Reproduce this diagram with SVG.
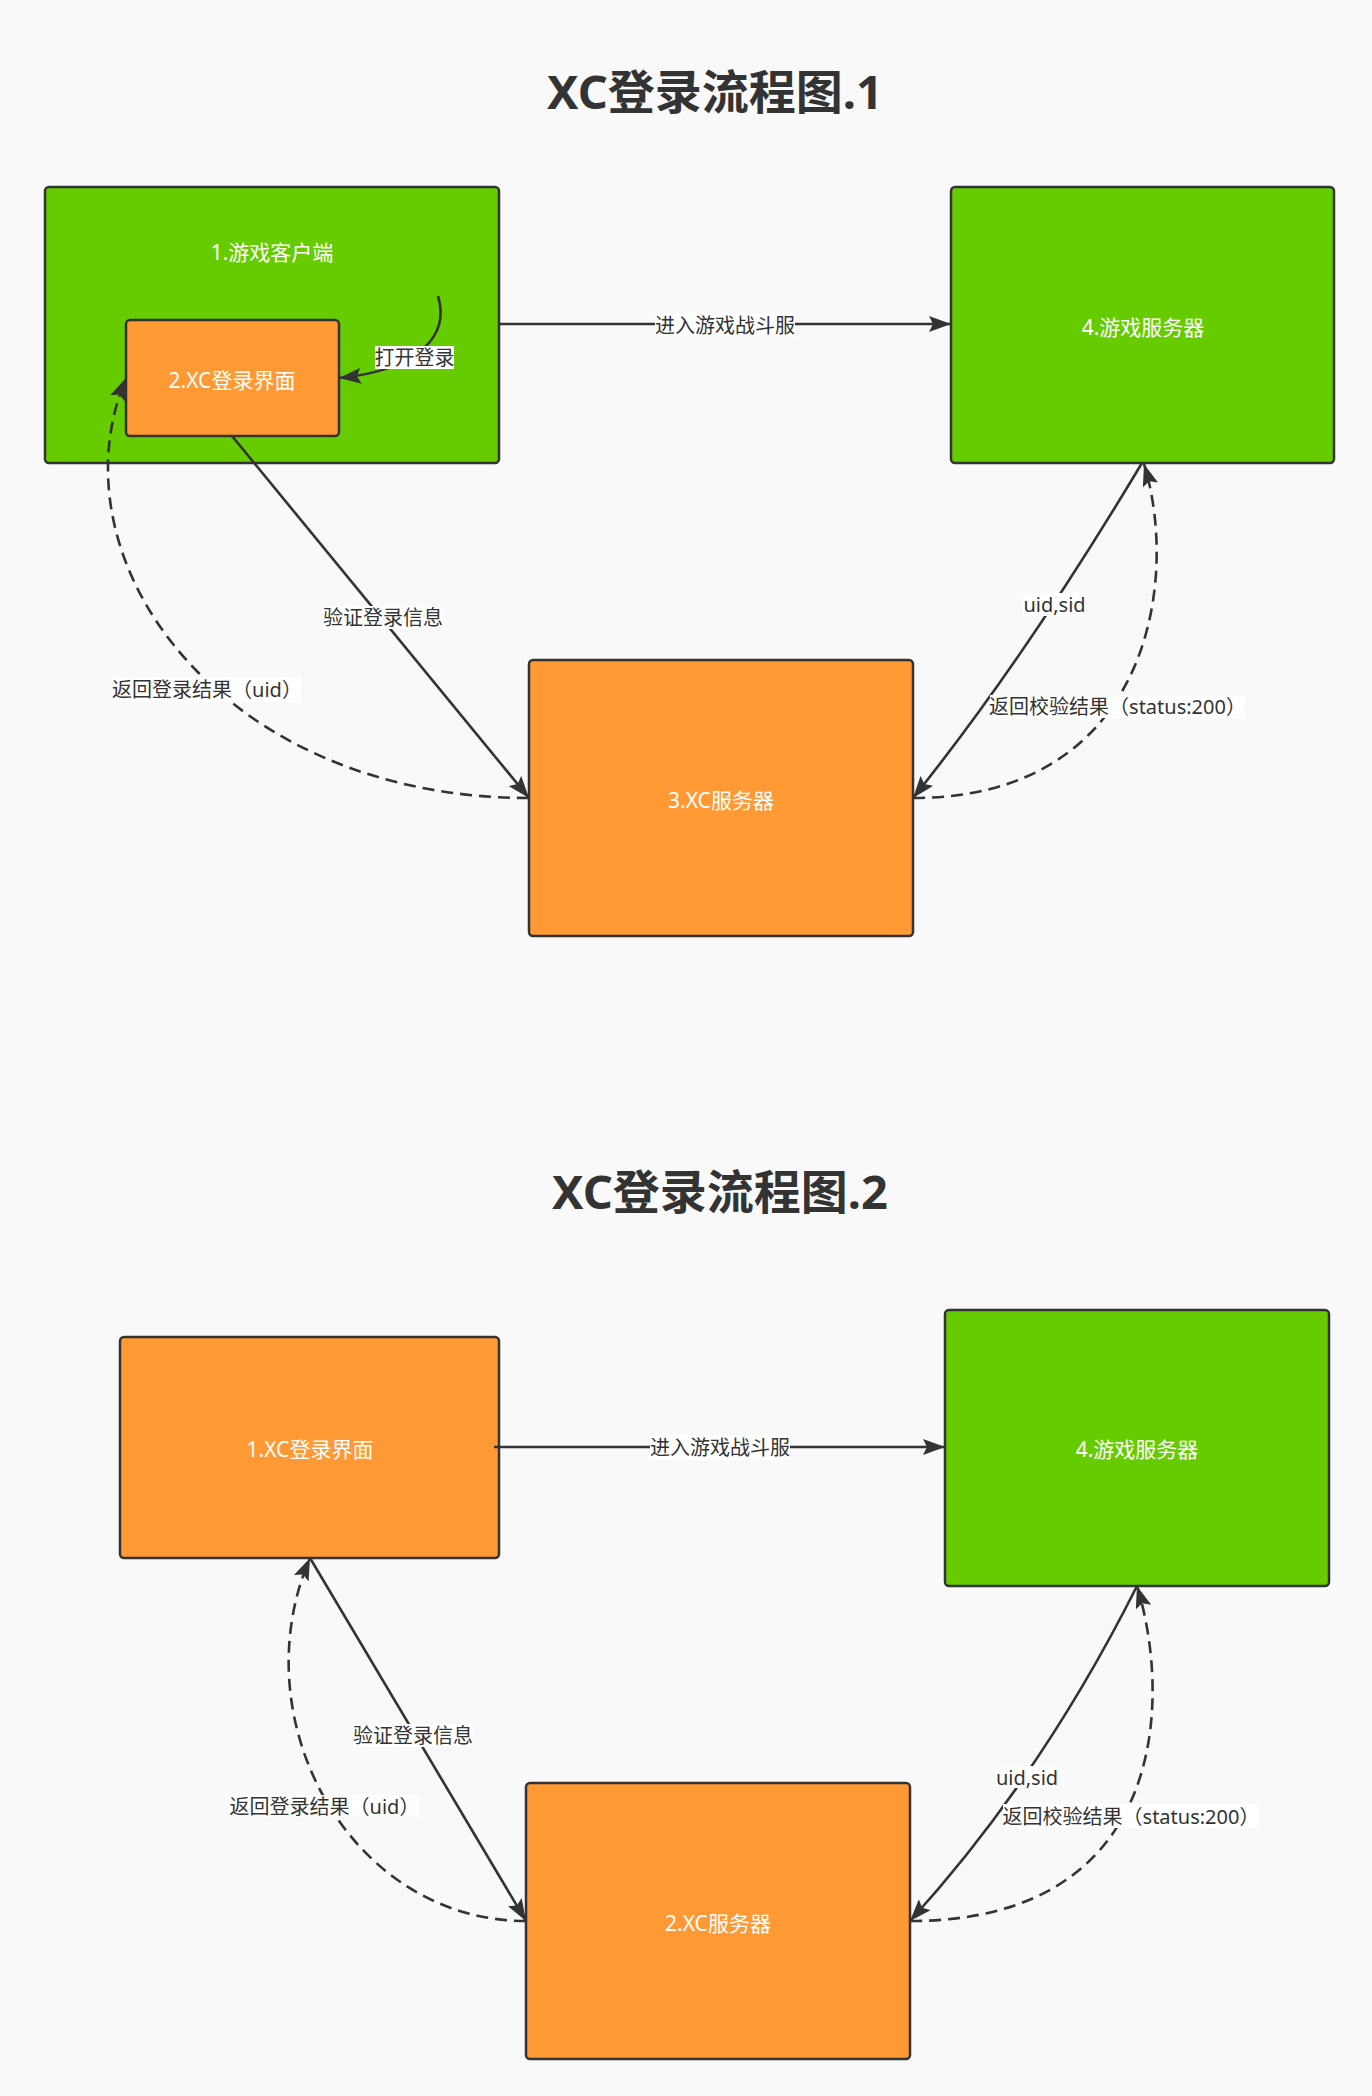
<svg xmlns="http://www.w3.org/2000/svg" width="1372" height="2096" viewBox="0 0 1372 2096">
  <style>
    .title { font-family: "Noto Sans", "Noto Sans CJK SC", sans-serif; font-size: 47px; font-weight: bold; fill: #333333; text-anchor: middle; dominant-baseline: central; }
    .box { stroke: #333333; stroke-width: 2.5; }
    .green { fill: #66cc00; }
    .orange { fill: #ff9933; }
    .node-label { font-family: "Noto Sans", "Noto Sans CJK SC", sans-serif; font-size: 21px; fill: #ffffff; text-anchor: middle; dominant-baseline: central; }
    .edge { fill: none; stroke: #333333; stroke-width: 2.6; marker-end: url(#arrow); }
    .dashed { stroke-dasharray: 12 7; }
    .edge-bg { fill: #ffffff; }
    .edge-label { font-family: "Noto Sans", "Noto Sans CJK SC", sans-serif; font-size: 20px; fill: #333333; text-anchor: middle; dominant-baseline: central; }
  </style>
  <defs>
    <marker id="arrow" viewBox="0 0 22 16" refX="22" refY="8" markerWidth="22" markerHeight="16" markerUnits="userSpaceOnUse" orient="auto">
      <path d="M0,0 L22,8 L0,16 L4,8 Z" fill="#333333"/>
    </marker>
  </defs>

  <rect x="0" y="0" width="1372" height="2096" fill="#f9f9f9"/>

  <!-- Flow 1 -->
  <text class="title" x="715" y="91">XC登录流程图.1</text>

  <g id="f1-client">
    <rect class="box green" x="45" y="187" width="454" height="276" rx="4"/>
    <text class="node-label" x="272" y="252">1.游戏客户端</text>
  </g>
  <g id="f1-login-ui">
    <rect class="box orange" x="126" y="320" width="213" height="116" rx="4"/>
    <text class="node-label" x="232" y="380">2.XC登录界面</text>
  </g>
  <g id="f1-game-server">
    <rect class="box green" x="951" y="187" width="383" height="276" rx="4"/>
    <text class="node-label" x="1143" y="327">4.游戏服务器</text>
  </g>
  <g id="f1-xc-server">
    <rect class="box orange" x="529" y="660" width="384" height="276" rx="4"/>
    <text class="node-label" x="721" y="800">3.XC服务器</text>
  </g>

  <g id="f1-connectors">
    <path class="edge" d="M438,296 C450,335 420,370 339,378"/>
    <rect class="edge-bg" x="375" y="346" width="79" height="23"/>
    <text class="edge-label" x="414.5" y="357.5">打开登录</text>

    <path class="edge" d="M499,324 L951,324"/>
    <rect class="edge-bg" x="655" y="313" width="140" height="24"/>
    <text class="edge-label" x="725" y="325">进入游戏战斗服</text>

    <path class="edge" d="M232,436 L529,798"/>
    <rect class="edge-bg" x="323" y="606" width="120" height="23"/>
    <text class="edge-label" x="383" y="617">验证登录信息</text>

    <path class="edge dashed" d="M529,798 C220,798 50,560 126,378"/>
    <rect class="edge-bg" x="113" y="677" width="188" height="25"/>
    <text class="edge-label" x="207" y="689.5">返回登录结果（uid）</text>

    <path class="edge" d="M1142,463 Q1024,660 913,798"/>
    <rect class="edge-bg" x="1023" y="593" width="63" height="23"/>
    <text class="edge-label" x="1054.5" y="604.5">uid,sid</text>

    <path class="edge dashed" d="M913,798 C1150,798 1180,580 1144,464"/>
    <rect class="edge-bg" x="990" y="695" width="255" height="23"/>
    <text class="edge-label" x="1117.5" y="706.5">返回校验结果（status:200）</text>
  </g>

  <!-- Flow 2 -->
  <text class="title" x="720" y="1191">XC登录流程图.2</text>

  <g id="f2-login-ui">
    <rect class="box orange" x="120" y="1337" width="379" height="221" rx="4"/>
    <text class="node-label" x="310" y="1449">1.XC登录界面</text>
  </g>
  <g id="f2-game-server">
    <rect class="box green" x="945" y="1310" width="384" height="276" rx="4"/>
    <text class="node-label" x="1137" y="1449">4.游戏服务器</text>
  </g>
  <g id="f2-xc-server">
    <rect class="box orange" x="526" y="1783" width="384" height="276" rx="4"/>
    <text class="node-label" x="718" y="1923">2.XC服务器</text>
  </g>

  <g id="f2-connectors">
    <path class="edge" d="M494,1447 L945,1447"/>
    <rect class="edge-bg" x="650" y="1435" width="140" height="25"/>
    <text class="edge-label" x="720" y="1447">进入游戏战斗服</text>

    <path class="edge" d="M310,1558 L526,1921"/>
    <rect class="edge-bg" x="353" y="1724" width="120" height="23"/>
    <text class="edge-label" x="413" y="1735.5">验证登录信息</text>

    <path class="edge dashed" d="M526,1921 C350,1921 240,1720 310,1558"/>
    <rect class="edge-bg" x="230" y="1795" width="189" height="22"/>
    <text class="edge-label" x="324.5" y="1806">返回登录结果（uid）</text>

    <path class="edge" d="M1137,1586 Q1041,1777 910,1921"/>
    <rect class="edge-bg" x="995" y="1766" width="64" height="22"/>
    <text class="edge-label" x="1027" y="1777">uid,sid</text>

    <path class="edge dashed" d="M910,1921 C1165,1921 1173,1703 1137,1586"/>
    <rect class="edge-bg" x="1003" y="1804" width="256" height="24"/>
    <text class="edge-label" x="1131" y="1816">返回校验结果（status:200）</text>
  </g>
</svg>
